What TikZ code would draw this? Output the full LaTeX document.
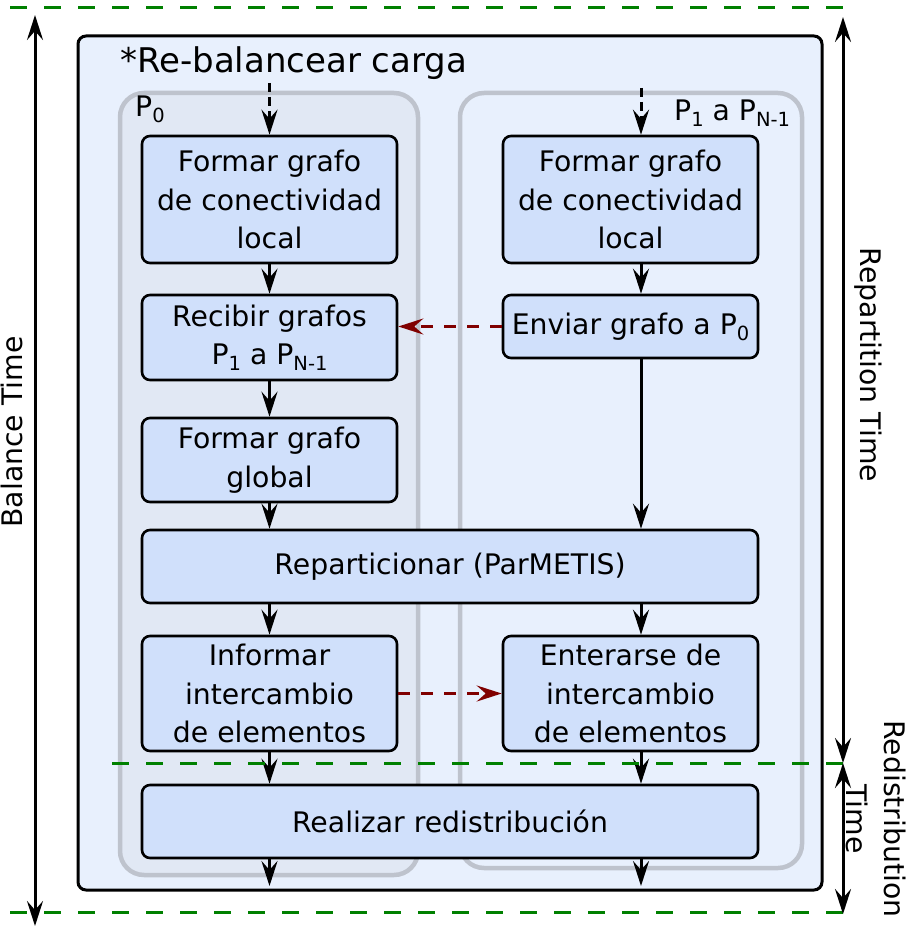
\documentclass[tikz,border=0pt]{standalone}
\usepackage{fontspec}
\setmainfont{DejaVu Sans}
\usetikzlibrary{arrows.meta}
\definecolor{outerfill}{HTML}{E8F0FD}
\definecolor{grpfill}{HTML}{E1E8F4}
\definecolor{grpline}{HTML}{BEC3CD}
\definecolor{boxfill}{HTML}{D0E0FB}
\definecolor{darkred}{HTML}{800000}
\definecolor{dgreen}{HTML}{008000}
\newcommand\mysub[1]{\raisebox{-6pt}{\fontsize{19.5}{19.5}\selectfont #1}}
\newcommand\bodyfont{\fontsize{28.3}{38.5}\selectfont}
\begin{document}
\begin{tikzpicture}[x=1pt,y=-1pt,
  stepbox/.style={draw, line width=2.6pt, fill=boxfill, rounded corners=8pt, align=center, font=\bodyfont, inner sep=0pt},
  flow/.style={line width=3pt, -{Stealth[length=25pt,width=16pt,inset=9pt]}},
  flowdash/.style={flow, dash pattern=on 9pt off 5pt},
  msg/.style={line width=3pt, darkred, dash pattern=on 12pt off 11pt, -{Stealth[length=25pt,width=16pt,inset=9pt]}},
  timearrow/.style={line width=3pt, {Stealth[length=25pt,width=16pt,inset=9pt]}-{Stealth[length=25pt,width=16pt,inset=9pt]}},
  greenline/.style={line width=3pt, dgreen, dash pattern=on 17pt off 17pt},
  label/.style={font=\bodyfont, inner sep=0pt, align=center}]
\useasboundingbox (0,0) rectangle (916,941);

% outer box and groups
\node[draw, line width=3pt, fill=outerfill, rounded corners=8pt, minimum width=744pt, minimum height=854pt, inner sep=0pt] (outer) at (450,463) {};
\node[draw=grpline, line width=4.5pt, fill=grpfill, rounded corners=24pt, minimum width=298pt, minimum height=782pt, inner sep=0pt] (gL) at (269,484) {};
\node[draw=grpline, line width=4.5pt, rounded corners=24pt, minimum width=342pt, minimum height=775pt, inner sep=0pt] (gR) at (631,480.5) {};

\node[anchor=base west, font=\fontsize{34}{40}\selectfont, inner sep=0pt] (title) at (120,73) {*Re-balancear carga};
\node[anchor=base west, label] (p0) at (135,117) {P\mysub{0}};
\node[anchor=base west, label] (p1) at (674,121) {P\mysub{1} a P\mysub{N-1}};

% boxes
\node[stepbox, minimum width=255pt, minimum height=127pt] (L1) at (269.5,199.5) {Formar grafo\\de conectividad\\local};
\node[stepbox, minimum width=255pt, minimum height=127pt] (R1) at (630.5,199.5) {Formar grafo\\de conectividad\\local};
\node[stepbox, minimum width=255pt, minimum height=85pt] (L2) at (269.5,337.5) {Recibir grafos\\P\mysub{1} a P\mysub{N-1}};
\node[stepbox, minimum width=255pt, minimum height=63pt] (R2) at (630.5,326.5) {Enviar grafo a P\mysub{0}};
\node[stepbox, minimum width=255pt, minimum height=84pt] (L3) at (269.5,460) {Formar grafo\\global};
\node[stepbox, minimum width=616pt, minimum height=73pt] (W1) at (450,566.5) {Reparticionar (ParMETIS)};
\node[stepbox, minimum width=255pt, minimum height=115pt] (L4) at (269.5,693.5) {Informar\\intercambio\\de elementos};
\node[stepbox, minimum width=255pt, minimum height=115pt] (R4) at (630.5,693.5) {Enterarse de\\intercambio\\de elementos};
\node[stepbox, minimum width=616pt, minimum height=73pt] (W2) at (450,821.5) {Realizar redistribución};

% helper coordinates
\coordinate (xr) at (641,0);
\coordinate (tL) at (269.5,83);
\coordinate (tR) at (641,88);
\coordinate (bL) at (269.5,886);
\coordinate (bR) at (641,886);

% flow arrows
\draw[flowdash] (tL) -- (L1.north);
\draw[flowdash] (tR) -- (R1.north -| xr);
\draw[flow] (L1.south) -- (L2.north);
\draw[flow] (R1.south -| xr) -- (R2.north -| xr);
\draw[flow] (L2.south) -- (L3.north);
\draw[flow] (L3.south) -- (W1.north -| L3.south);
\draw[flow] (R2.south -| xr) -- (W1.north -| xr);
\draw[flow] (W1.south -| L4.north) -- (L4.north);
\draw[flow] (W1.south -| xr) -- (R4.north -| xr);
\draw[flow] (L4.south) -- (W2.north -| L4.south);
\draw[flow] (R4.south -| xr) -- (W2.north -| xr);
\draw[flow] (W2.south -| bL) -- (bL);
\draw[flow] (W2.south -| xr) -- (bR);

% messages
\draw[msg] (R2.west) -- (L2.east |- R2.west);
\draw[msg] (L4.east) -- (R4.west);

% time markers
\coordinate (gTL) at (10,8);
\coordinate (gTR) at (845,8);
\coordinate (gML) at (112,763);
\coordinate (gMR) at (848,763);
\coordinate (gBL) at (10,912);
\coordinate (gBR) at (845,912);
\draw[greenline] (gTL) -- (gTR);
\draw[greenline] (gML) -- (gMR);
\draw[greenline] (gBL) -- (gBR);

\coordinate (balT) at (35,15);
\coordinate (balB) at (35,926);
\coordinate (repT) at (843,17);
\coordinate (repB) at (843,763);
\coordinate (redT) at (843,763);
\coordinate (redB) at (843,914);
\draw[timearrow] (balT) -- (balB);
\draw[timearrow] (repT) -- (repB);
\draw[timearrow] (redT) -- (redB);

\node[label, rotate=90] (balL) at (12,432) {Balance Time};
\node[label, rotate=-90] (repL) at (868,365) {Repartition Time};
\node[label, rotate=-90] (redL) at (876,819) {Redistribution\\Time};
\end{tikzpicture}
\end{document}
